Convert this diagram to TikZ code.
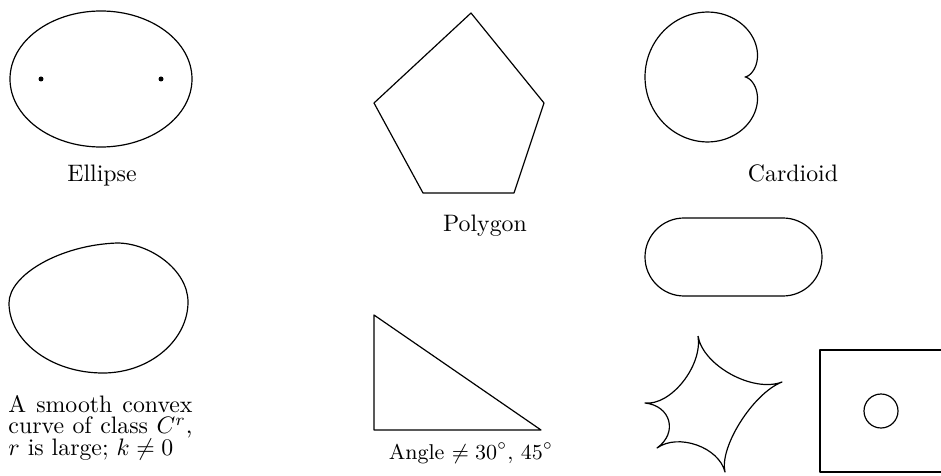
\documentclass[tikz,border=0pt]{standalone}
\usetikzlibrary{calc}
\usepackage{amsmath,amssymb}

\begin{document}
\begin{tikzpicture}[
		x=0.42pt, y=-0.42pt,
		curve/.style={draw, line width=0.5pt, line join=round},
		lbl/.style={inner sep=0pt, font=\fontsize{10}{9.1}\selectfont}
	]
	\useasboundingbox (0,0) rectangle (941,476);

	% Ellipse
	\draw[curve] (101,79) ellipse [x radius=91, y radius=68];
	\fill (41,79) circle [radius=2.5];
	\fill (161,79) circle [radius=2.5];
	\node[lbl, anchor=base] (ellipselbl) at (102,182) {Ellipse};

	% Polygon
	\draw[curve] (471,13) -- (544,103) -- (514,193) -- (423,193) -- (374,103) -- cycle;
	\node[lbl, anchor=base] (polygonlbl) at (485,232) {Polygon};

	% Cardioid
	\draw[curve] plot[domain=0:360, samples=200, variable=\t]
		({745+50*(1-cos(\t))*cos(\t)}, {77+50*(1-cos(\t))*sin(\t)}) -- cycle;
	\node[lbl, anchor=base] (cardioidlbl) at (793,182) {Cardioid};

	% Stadium
	\draw[curve, rounded corners=16.4pt] (645,218) rectangle (822,296);

	% Smooth convex curve
	\draw[curve] (9,303) .. controls (9,275) and (60,245) .. (117,243)
		.. controls (150,243) and (188,270) .. (188,302)
		.. controls (188,340) and (150,373) .. (103,373)
		.. controls (50,373) and (9,340) .. (9,303) -- cycle;
	\node[lbl, text width=77.3pt, align=justify, anchor=base west] (curvelbl) at (8,412)
		{A smooth convex\linebreak curve of class $C^r$,\linebreak $r$ is large; $k\neq 0$};

	% Triangle
	\draw[curve] (374,315) -- (374,430) -- (541,430) -- cycle;
	\node[lbl, font=\small, anchor=base] (anglelbl) at (471,459)
		{Angle $\neq 30^\circ$, $45^\circ$};

	% Star with five cusps
	\coordinate (mid) at (710,410);
	\coordinate (cusp1) at (698,336);
	\coordinate (cusp2) at (782,382);
	\coordinate (cusp3) at (725,472);
	\coordinate (cusp4) at (657,448);
	\coordinate (cusp5) at (645,403);
	\draw[curve] (cusp1)
		.. controls ($(cusp1)!0.4!(mid)$) and ($(cusp2)!0.4!(mid)$) .. (cusp2)
		.. controls ($(cusp2)!0.4!(mid)$) and ($(cusp3)!0.4!(mid)$) .. (cusp3)
		.. controls ($(cusp3)!0.4!(mid)$) and ($(cusp4)!0.4!(mid)$) .. (cusp4)
		.. controls ($(cusp4)!0.4!(mid)$) and ($(cusp5)!0.4!(mid)$) .. (cusp5)
		.. controls ($(cusp5)!0.4!(mid)$) and ($(cusp1)!0.4!(mid)$) .. (cusp1);

	% Square with hole
	\draw[curve] (820,350) rectangle (942,472);
	\draw[curve] (881,411) circle [radius=17];
\end{tikzpicture}
\end{document}
